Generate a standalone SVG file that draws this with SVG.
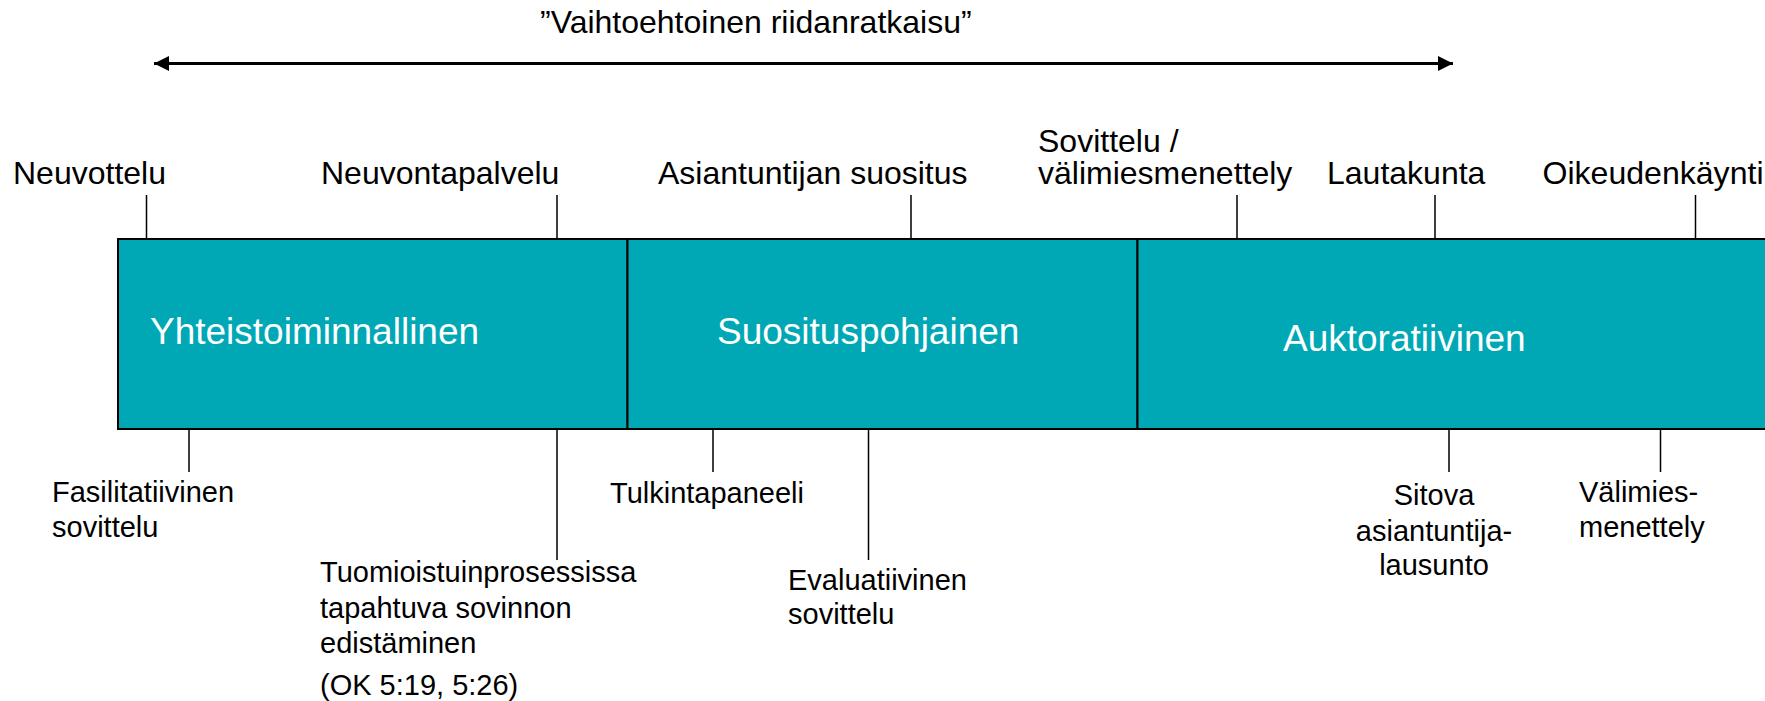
<svg xmlns="http://www.w3.org/2000/svg" width="1765" height="701" viewBox="0 0 1765 701">
<style>
text{font-family:"Liberation Sans",Arial,sans-serif;fill:#000}
.top{font-size:32px}
.bot{font-size:29px}
.box{font-size:37px;fill:#fff}
.seg{fill:#00A8B5;stroke:#000;stroke-width:2}
.tick{stroke:#000;stroke-width:1.5;fill:none}
</style>
<defs>
<marker id="ah" viewBox="0 0 10 10" refX="10" refY="5" markerWidth="5" markerHeight="5" orient="auto-start-reverse" markerUnits="strokeWidth">
<path d="M0,0 L10,5 L0,10 z" fill="#000"/>
</marker>
</defs>
<rect width="1765" height="701" fill="#fff"/>
<g id="title">
<text class="top" x="540" y="33">”Vaihtoehtoinen riidanratkaisu”</text>
</g>
<g id="connectors">
<line x1="154" y1="63.5" x2="1453" y2="63.5" stroke="#000" stroke-width="3" marker-start="url(#ah)" marker-end="url(#ah)"/>
<line class="tick" x1="146.5" y1="195" x2="146.5" y2="239"/>
<line class="tick" x1="557" y1="195" x2="557" y2="239"/>
<line class="tick" x1="911" y1="195" x2="911" y2="239"/>
<line class="tick" x1="1237" y1="195" x2="1237" y2="239"/>
<line class="tick" x1="1435" y1="195" x2="1435" y2="239"/>
<line class="tick" x1="1695.5" y1="195" x2="1695.5" y2="239"/>
<line class="tick" x1="189" y1="429" x2="189" y2="472"/>
<line class="tick" x1="557" y1="429" x2="557" y2="560"/>
<line class="tick" x1="713" y1="429" x2="713" y2="472"/>
<line class="tick" x1="868.5" y1="429" x2="868.5" y2="560"/>
<line class="tick" x1="1449" y1="429" x2="1449" y2="472"/>
<line class="tick" x1="1660.5" y1="429" x2="1660.5" y2="472"/>
</g>
<g id="seg-yhteistoiminnallinen">
<rect class="seg" x="118" y="239" width="509.5" height="190"/>
<text class="box" x="150" y="343.5">Yhteistoiminnallinen</text>
</g>
<g id="seg-suosituspohjainen">
<rect class="seg" x="627.5" y="239" width="510" height="190"/>
<text class="box" x="717" y="343.5">Suosituspohjainen</text>
</g>
<g id="seg-auktoratiivinen">
<rect class="seg" x="1137.5" y="239" width="700" height="190"/>
<text class="box" x="1283" y="351">Auktoratiivinen</text>
</g>
<g id="lbl-neuvottelu"><text class="top" x="13" y="184">Neuvottelu</text></g>
<g id="lbl-neuvontapalvelu"><text class="top" x="321" y="184">Neuvontapalvelu</text></g>
<g id="lbl-asiantuntijan"><text class="top" x="658" y="184">Asiantuntijan suositus</text></g>
<g id="lbl-sovittelu"><text class="top" x="1038" y="152">Sovittelu /</text><text class="top" x="1038" y="184">välimiesmenettely</text></g>
<g id="lbl-lautakunta"><text class="top" x="1327" y="184">Lautakunta</text></g>
<g id="lbl-oikeudenkaynti"><text class="top" x="1542.5" y="184" textLength="221" lengthAdjust="spacingAndGlyphs">Oikeudenkäynti</text></g>
<g id="lbl-fasilitatiivinen"><text class="bot" x="52" y="501.7">Fasilitatiivinen</text><text class="bot" x="52" y="536.7">sovittelu</text></g>
<g id="lbl-tuomioistuin">
<text class="bot" x="320" y="582.3">Tuomioistuinprosessissa</text>
<text class="bot" x="320" y="617.8">tapahtuva sovinnon</text>
<text class="bot" x="320" y="653.3">edistäminen</text>
<text class="bot" x="320" y="695">(OK 5:19, 5:26)</text>
</g>
<g id="lbl-tulkintapaneeli"><text class="bot" x="610" y="503.3">Tulkintapaneeli</text></g>
<g id="lbl-evaluatiivinen"><text class="bot" x="788" y="590">Evaluatiivinen</text><text class="bot" x="788" y="624.3">sovittelu</text></g>
<g id="lbl-sitova" text-anchor="middle">
<text class="bot" x="1434" y="505">Sitova</text>
<text class="bot" x="1434" y="540.5">asiantuntija-</text>
<text class="bot" x="1434" y="575">lausunto</text>
</g>
<g id="lbl-valimies"><text class="bot" x="1579" y="501.7">Välimies-</text><text class="bot" x="1579" y="536.7">menettely</text></g>
</svg>
